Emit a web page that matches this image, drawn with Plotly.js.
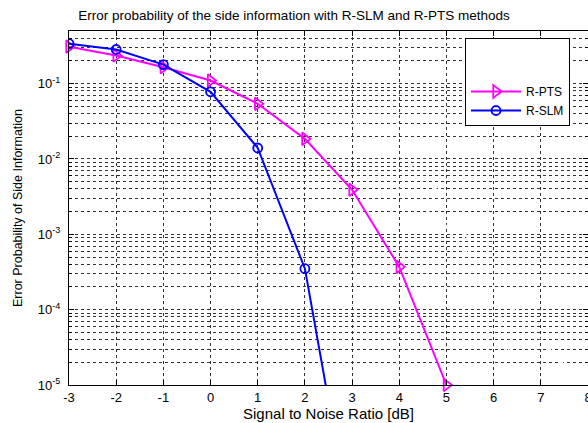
<!DOCTYPE html>
<html>
<head>
<meta charset="utf-8">
<script src="https://cdn.plot.ly/plotly-3.0.1.min.js"></script>
<style>html,body{margin:0;padding:0;background:#fff;}#chart{width:588px;height:423px;}</style>
</head>
<body>
<div id="chart"></div>
<script>
// SNR values (dB)
var snr = [-3, -2, -1, 0, 1, 2, 3, 4, 5];
// Error probability of side information
var ptsValues = [0.31, 0.236, 0.165, 0.11, 0.054, 0.0185, 0.0039, 0.00037, 0.00001];
var slmSnr = [-3, -2, -1, 0, 1, 2, 3];
var slmValues = [0.34, 0.284, 0.179, 0.078, 0.014, 0.00035, 1.1e-7];
// faint white curves present in the original figure
var w1Snr = [3, 4, 5, 6, 6.5];
var w1Values = [0.035, 0.011, 0.003, 0.0002, 0.00001];
var w2Snr = [4, 5, 6, 7, 7.9];
var w2Values = [0.004, 0.0013, 0.0002, 0.00004, 0.00001];

var xTickVals = [-3, -2, -1, 0, 1, 2, 3, 4, 5, 6, 7, 8];
var xTickText = ['-3', '-2', '-1', '0', '1', '2', '3', '4', '5', '6', '7', '8'];
var yTickVals = [1e-5, 1e-4, 1e-3, 1e-2, 1e-1];
var yTickText = ['10<sup>-5</sup>', '10<sup>-4</sup>', '10<sup>-3</sup>', '10<sup>-2</sup>', '10<sup>-1</sup>'];

var minorVals = [];
[-5, -4, -3, -2, -1].forEach(function (e) {
  for (var m = 2; m <= 9; m++) { minorVals.push(m * Math.pow(10, e)); }
});

var traces = [
  {x: w1Snr, y: w1Values, mode: 'lines', name: '\u00a0', line: {color: '#ffffff', width: 1.5, dash: 'dash'}, hoverinfo: 'skip'},
  {x: w2Snr, y: w2Values, mode: 'lines', name: '\u00a0', line: {color: '#ffffff', width: 1.5, dash: 'dash'}, hoverinfo: 'skip'},
  {x: snr, y: ptsValues, mode: 'lines+markers', name: 'R-PTS', cliponaxis: false,
   line: {color: '#ff00ff', width: 2},
   marker: {symbol: 'triangle-right-open', size: 11, color: '#ff00ff', line: {width: 1.8, color: '#ff00ff'}}},
  {x: slmSnr, y: slmValues, mode: 'lines+markers', name: 'R-SLM',
   line: {color: '#0000ff', width: 2},
   marker: {symbol: 'circle-open', size: 9, color: '#0000ff', line: {width: 1.8, color: '#0000ff'}}}
];

var fam = '"Liberation Sans", Arial, sans-serif';
var tickFont = {family: fam, size: 13, color: '#000'};

var layout = {
  width: 588, height: 423,
  margin: {l: 69, r: 0, t: 31, b: 38, pad: 0},
  paper_bgcolor: '#fff', plot_bgcolor: '#fff',
  font: {family: fam, size: 12, color: '#000'},
  showlegend: true,
  title: {text: 'Error probability of the side information with R-SLM and R-PTS methods',
          font: {family: fam, size: 13.5, color: '#000'},
          xref: 'container', x: 0.5, xanchor: 'center', yref: 'container', y: 1 - 15/423, yanchor: 'middle'},
  xaxis: {
    range: [-3, 8], tickmode: 'array', tickvals: xTickVals, ticktext: xTickText,
    showline: true, linecolor: '#000', linewidth: 1, mirror: 'ticks',
    ticks: 'inside', ticklen: 5, tickcolor: '#000', ticklabeloverflow: 'allow',
    showgrid: true, gridcolor: '#333', gridwidth: 1, griddash: 'dot',
    zeroline: false, tickfont: tickFont,
    title: {text: 'Signal to Noise Ratio [dB]', font: {family: fam, size: 15}, standoff: 4}
  },
  yaxis: {
    type: 'log', range: [-5, Math.log10(0.5)],
    tickmode: 'array', tickvals: yTickVals, ticktext: yTickText,
    showline: true, linecolor: '#000', linewidth: 1, mirror: 'ticks',
    ticks: 'inside', ticklen: 5, tickcolor: '#000', ticklabelstandoff: 5,
    showgrid: true, gridcolor: '#333', gridwidth: 1, griddash: 'dot',
    zeroline: false, tickfont: tickFont,
    minor: {tickmode: 'array', tickvals: minorVals, ticks: 'inside', ticklen: 3, tickcolor: '#000',
            showgrid: true, gridcolor: '#333', gridwidth: 1, griddash: 'dot'},
    title: {text: 'Error Probability of Side Information', font: {family: fam, size: 12.5}, standoff: 12}
  },
  legend: {
    x: (465 - 69) / 519, y: 1 - (38 - 31) / 354, xanchor: 'left', yanchor: 'top',
    bgcolor: '#fff', bordercolor: '#000', borderwidth: 1,
    font: {family: fam, size: 12, color: '#000'},
    itemwidth: 50, tracegroupgap: 0
  }
};

Plotly.newPlot('chart', traces, layout, {displayModeBar: false, staticPlot: true});
</script>
</body>
</html>
